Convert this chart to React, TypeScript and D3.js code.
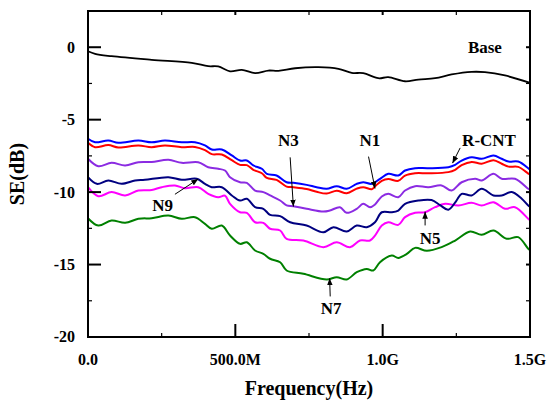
import { useEffect, useRef } from "react";
import * as d3 from "d3";

// frequency in MHz, SE in dB
const base: [number, number][] = [
  [0, -0.28], [24, -0.46], [80, -0.62], [216, -0.87], [352, -1.08], [408, -1.31], [442, -1.33],
  [482, -1.66], [522, -1.56], [567, -1.79], [612, -1.61], [646, -1.63], [703, -1.45], [782, -1.38],
  [850, -1.49], [895, -1.77], [934, -1.79], [985, -2.14], [1019, -2.07], [1076, -2.35], [1121, -2.23],
  [1178, -2.14], [1234, -1.88], [1302, -1.7], [1347, -1.72], [1415, -1.95], [1500, -2.46],
];

const rcnt: [number, number][] = [
  [0, -6.32], [24, -6.56], [69, -6.44], [103, -6.6], [171, -6.44], [216, -6.56], [261, -6.44],
  [318, -6.56], [363, -6.56], [397, -6.78], [420, -7.06], [454, -7.06], [488, -7.47], [516, -7.82],
  [539, -7.82], [561, -8.16], [590, -8.39], [607, -8.74], [640, -8.85], [674, -9.32], [697, -9.36],
  [742, -9.5], [776, -9.66], [810, -9.77], [844, -9.59], [878, -9.77], [912, -9.43], [934, -9.32],
  [963, -9.43], [991, -9.08], [1019, -8.74], [1053, -8.85], [1076, -8.51], [1110, -8.35], [1155, -8.35],
  [1223, -8.28], [1246, -8.12], [1268, -7.82], [1302, -7.59], [1336, -7.7], [1376, -7.47], [1404, -7.7],
  [1427, -7.89], [1460, -7.89], [1494, -8.35], [1500, -8.45],
];

const n1: [number, number][] = [
  [0, -6.6], [24, -6.9], [69, -6.75], [103, -6.92], [171, -6.78], [216, -6.9], [261, -6.78],
  [318, -6.9], [363, -6.88], [397, -7.1], [420, -7.38], [454, -7.4], [488, -7.8], [516, -8.12],
  [539, -8.14], [561, -8.46], [590, -8.7], [607, -9.02], [640, -9.16], [674, -9.62], [697, -9.66],
  [742, -9.78], [776, -9.98], [810, -10.1], [844, -9.9], [878, -10.08], [912, -9.76], [934, -9.66],
  [963, -9.8], [974, -9.6], [997, -9.22], [1019, -9.1], [1053, -9.22], [1076, -8.86], [1110, -8.7],
  [1155, -8.7], [1223, -8.62], [1246, -8.46], [1268, -8.14], [1302, -7.92], [1336, -8.04], [1376, -7.8],
  [1404, -8.04], [1427, -8.24], [1460, -8.26], [1494, -8.72], [1500, -8.8],
];

const n3: [number, number][] = [
  [0, -7.7], [35, -8.21], [80, -7.98], [126, -8.16], [171, -7.94], [216, -7.92], [273, -7.77],
  [318, -7.98], [374, -7.94], [408, -8.28], [442, -8.39], [465, -8.51], [482, -8.97], [516, -9.32],
  [539, -9.36], [567, -9.89], [595, -10.0], [618, -10.23], [652, -10.58], [674, -10.92], [697, -10.97],
  [742, -11.15], [799, -11.34], [821, -11.27], [855, -11.04], [878, -11.43], [912, -11.15], [934, -10.81],
  [957, -11.04], [974, -10.85], [997, -10.3], [1019, -10.12], [1053, -10.35], [1076, -9.89], [1110, -9.59],
  [1155, -9.66], [1200, -9.54], [1234, -9.89], [1268, -9.32], [1314, -9.08], [1336, -9.2], [1376, -8.74],
  [1404, -9.08], [1449, -9.08], [1494, -9.77], [1500, -9.85],
];

const n9: [number, number][] = [
  [0, -8.97], [30, -9.43], [69, -9.2], [114, -9.43], [160, -9.2], [193, -9.15], [273, -8.97],
  [318, -9.15], [369, -9.08], [397, -9.43], [420, -9.66], [454, -9.66], [488, -10.23], [516, -10.58],
  [539, -10.46], [567, -11.04], [595, -11.15], [618, -11.57], [652, -11.66], [686, -12.08], [742, -12.31],
  [799, -12.77], [833, -12.42], [878, -12.72], [912, -12.31], [946, -12.42], [974, -12.08], [997, -11.39],
  [1031, -11.39], [1053, -11.27], [1076, -10.81], [1121, -10.58], [1166, -10.55], [1195, -10.9],
  [1223, -11.22], [1250, -10.6], [1268, -10.12], [1302, -10.23], [1336, -9.77], [1376, -10.23],
  [1404, -10.23], [1438, -10.0], [1472, -10.46], [1494, -10.92], [1500, -11.0],
];

const n5: [number, number][] = [
  [0, -9.66], [35, -10.28], [80, -10.0], [126, -10.23], [171, -9.89], [216, -9.85], [250, -9.66],
  [295, -9.54], [329, -9.73], [374, -9.66], [408, -10.12], [442, -10.35], [465, -10.25], [482, -10.81],
  [516, -11.39], [539, -11.43], [567, -12.08], [595, -12.12], [618, -12.53], [652, -12.65], [674, -13.22],
  [731, -13.34], [799, -13.8], [844, -13.46], [889, -13.8], [923, -13.34], [957, -13.34], [974, -13.0],
  [997, -12.31], [1019, -12.08], [1053, -12.26], [1076, -11.73], [1110, -11.43], [1144, -11.39],
  [1178, -11.04], [1212, -10.81], [1257, -10.92], [1302, -10.74], [1336, -10.92], [1376, -10.7],
  [1415, -11.15], [1449, -11.04], [1494, -11.84], [1500, -11.95],
];

const n7: [number, number][] = [
  [0, -11.8], [35, -12.31], [80, -11.96], [126, -12.12], [171, -11.84], [216, -11.8], [273, -11.62],
  [318, -11.84], [363, -11.73], [397, -12.19], [420, -12.53], [454, -12.31], [482, -13.0], [516, -13.57],
  [539, -13.46], [567, -14.03], [595, -14.26], [618, -14.6], [652, -14.84], [674, -15.41], [731, -15.64],
  [810, -16.03], [844, -15.87], [878, -16.03], [912, -15.53], [946, -15.3], [968, -15.41], [991, -14.84],
  [1031, -14.38], [1053, -14.54], [1082, -14.26], [1110, -13.85], [1150, -14.05], [1200, -13.8],
  [1246, -13.34], [1297, -12.72], [1336, -12.95], [1376, -12.65], [1421, -13.22], [1460, -13.11],
  [1494, -13.91], [1500, -14.0],
];

const series = [
  { name: "Base", data: base, color: "#000000", width: 1.8 },
  { name: "N7", data: n7, color: "#008000", width: 2 },
  { name: "N5", data: n5, color: "#ff00ff", width: 2 },
  { name: "N9", data: n9, color: "#000080", width: 2 },
  { name: "N3", data: n3, color: "#8b2be2", width: 2 },
  { name: "N1", data: n1, color: "#ff0000", width: 2 },
  { name: "R-CNT", data: rcnt, color: "#0000ff", width: 2 },
];

const xTicks = [0, 500, 1000, 1500];
const xTickLabels = ["0.0", "500.0M", "1.0G", "1.5G"];
const xMinor = [250, 750, 1250];
const yTicks = [0, -5, -10, -15, -20];
const yMinor = [-2.5, -7.5, -12.5, -17.5];

// label: text position (freq, dB), arrow from -> to (freq, dB)
const labels = [
  { text: "Base", at: [1347, -0.37], arrow: null },
  { text: "R-CNT", at: [1361, -6.8], arrow: [[1263, -6.95], [1237, -8.0]] },
  { text: "N1", at: [957, -6.8], arrow: [[952, -7.55], [974, -9.75]] },
  { text: "N3", at: [680, -6.8], arrow: [[686, -7.6], [697, -11.0]] },
  { text: "N9", at: [253, -11.3], arrow: [[295, -10.15], [374, -9.1]] },
  { text: "N5", at: [1161, -13.55], arrow: [[1144, -12.3], [1144, -11.35]] },
  { text: "N7", at: [825, -18.4], arrow: [[822, -17.2], [820, -15.95]] },
];

const FONT = "Liberation Serif, DejaVu Serif, serif";

export default function App() {
  const ref = useRef<SVGSVGElement | null>(null);

  useEffect(() => {
    if (!ref.current) return;
    const svg = d3.select(ref.current);
    svg.selectAll("*").remove();

    const left = 88, right = 530, top = 11, bottom = 337;
    const x = d3.scaleLinear().domain([0, 1500]).range([left, right]);
    const y = d3.scaleLinear().domain([-20, 2.5]).range([bottom, top]);

    svg
      .append("defs")
      .append("marker")
      .attr("id", "arr")
      .attr("viewBox", "0 0 10 10")
      .attr("refX", 10)
      .attr("refY", 5)
      .attr("markerWidth", 7)
      .attr("markerHeight", 7)
      .attr("markerUnits", "userSpaceOnUse")
      .attr("orient", "auto")
      .append("path")
      .attr("d", "M0,1 L10,5 L0,9 Z")
      .attr("fill", "#000");

    const line = d3
      .line<[number, number]>()
      .x((d) => x(d[0]))
      .y((d) => y(d[1]))
      .curve(d3.curveCatmullRom.alpha(0.5));

    series.forEach((s) => {
      svg
        .append("path")
        .datum(s.data)
        .attr("fill", "none")
        .attr("stroke", s.color)
        .attr("stroke-width", s.width)
        .attr("stroke-linejoin", "round")
        .attr("d", line);
    });

    const g = svg.append("g").attr("stroke", "#000").attr("stroke-width", 2);
    // ticks: long inward on left/bottom, short on top/right
    xTicks.forEach((t) => {
      g.append("line").attr("x1", x(t)).attr("x2", x(t)).attr("y1", bottom).attr("y2", bottom - 13);
      g.append("line").attr("x1", x(t)).attr("x2", x(t)).attr("y1", top).attr("y2", top + 4);
    });
    xMinor.forEach((t) => {
      g.append("line").attr("x1", x(t)).attr("x2", x(t)).attr("y1", bottom).attr("y2", bottom - 4).attr("stroke-width", 1.2);
      g.append("line").attr("x1", x(t)).attr("x2", x(t)).attr("y1", top).attr("y2", top + 4).attr("stroke-width", 1.2);
    });
    yTicks.forEach((t) => {
      g.append("line").attr("x1", left).attr("x2", left + 13).attr("y1", y(t)).attr("y2", y(t));
      g.append("line").attr("x1", right).attr("x2", right - 4).attr("y1", y(t)).attr("y2", y(t));
    });
    yMinor.forEach((t) => {
      g.append("line").attr("x1", left).attr("x2", left + 4).attr("y1", y(t)).attr("y2", y(t)).attr("stroke-width", 1.2);
      g.append("line").attr("x1", right).attr("x2", right - 4).attr("y1", y(t)).attr("y2", y(t)).attr("stroke-width", 1.2);
    });

    g.append("rect")
      .attr("x", left)
      .attr("y", top)
      .attr("width", right - left)
      .attr("height", bottom - top)
      .attr("fill", "none");

    const txt = svg
      .append("g")
      .style("font-family", FONT)
      .attr("font-weight", "bold")
      .attr("fill", "#000");

    xTicks.forEach((t, i) => {
      txt
        .append("text")
        .attr("x", x(t))
        .attr("y", 365)
        .attr("text-anchor", "middle")
        .attr("font-size", 16)
        .text(xTickLabels[i]);
    });
    yTicks.forEach((t) => {
      txt
        .append("text")
        .attr("x", 75)
        .attr("y", y(t))
        .attr("dy", "0.34em")
        .attr("text-anchor", "end")
        .attr("font-size", 16)
        .text(String(t));
    });

    txt
      .append("text")
      .attr("x", (left + right) / 2)
      .attr("y", 395)
      .attr("text-anchor", "middle")
      .attr("font-size", 20)
      .text("Frequency(Hz)");
    txt
      .append("text")
      .attr("transform", `translate(24,${(top + bottom) / 2}) rotate(-90)`)
      .attr("text-anchor", "middle")
      .attr("font-size", 20)
      .text("SE(dB)");

    labels.forEach((l) => {
      txt
        .append("text")
        .attr("x", x(l.at[0]))
        .attr("y", y(l.at[1]))
        .attr("text-anchor", "middle")
        .attr("font-size", 17)
        .text(l.text);
      if (l.arrow) {
        svg
          .append("line")
          .attr("x1", x(l.arrow[0][0]))
          .attr("y1", y(l.arrow[0][1]))
          .attr("x2", x(l.arrow[1][0]))
          .attr("y2", y(l.arrow[1][1]))
          .attr("stroke", "#000")
          .attr("stroke-width", 1)
          .attr("marker-end", "url(#arr)");
      }
    });
  }, []);

  return (
    <svg
      ref={ref}
      width={547}
      height={405}
      style={{ position: "absolute", left: 0, top: 0, background: "#fff" }}
    />
  );
}
